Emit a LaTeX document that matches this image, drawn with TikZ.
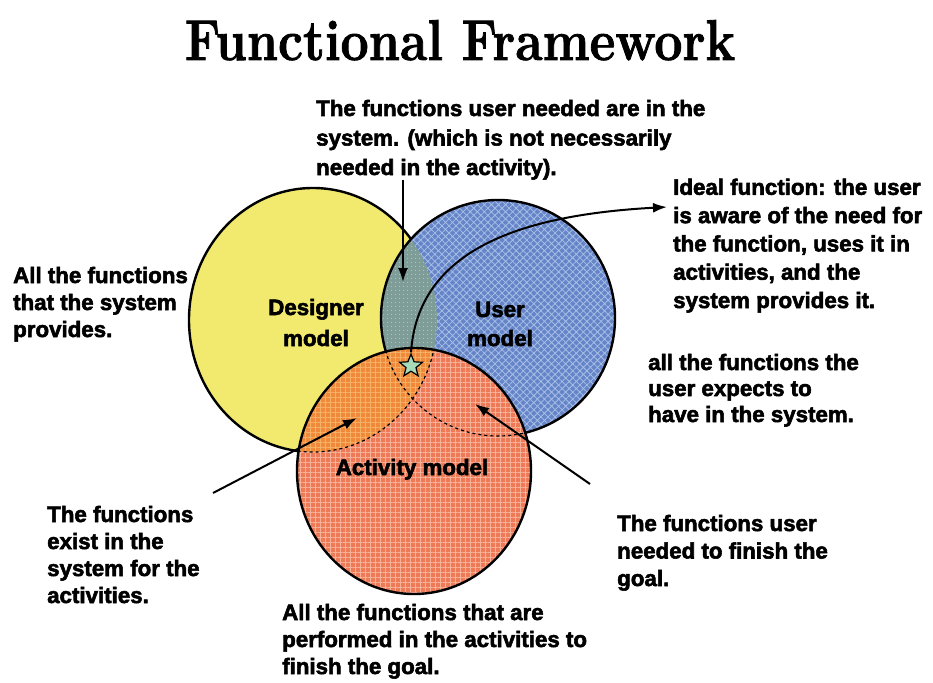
\documentclass[tikz,border=0pt]{standalone}
\usepackage{fontspec}
\usepackage{graphicx}
\newfontfamily\notefont{Liberation Sans Bold}[FakeBold=2.5]
\newfontfamily\titlefont{Latin Modern Roman 10 Bold}[FakeBold=1.5]
\usetikzlibrary{arrows.meta,shapes.geometric,patterns.meta}

\definecolor{designerfill}{HTML}{F2EA6E}
\definecolor{userfill}{HTML}{6585C8}
\definecolor{usertex}{HTML}{A8BEE6}
\definecolor{sharedfill}{HTML}{7E9C98}
\definecolor{sharedtex}{HTML}{C8C878}
\definecolor{activityfill}{HTML}{EE7A58}
\definecolor{activitytex}{HTML}{F7B29A}
\definecolor{systemfill}{HTML}{F08A3A}
\definecolor{systemtex}{HTML}{F5B266}
\definecolor{idealfill}{HTML}{A6DDB8}

% multi-line nodes are placed by the baseline of their last line
\tikzset{
  note/.style={font=\notefont\fontsize{22.3}{#1}\selectfont,
    align=left, anchor=base west, inner sep=0pt},
  note/.default=27,
  setlabel/.style={font=\notefont\fontsize{22.3}{#1}\selectfont,
    align=center, anchor=base, inner sep=0pt},
  setlabel/.default=30,
  outline/.style={line width=2.4pt},
  pointer/.style={line width=2pt, -{Latex[length=14pt,width=10pt]}},
  hidden edge/.style={line width=1.2pt, dash pattern=on 3pt off 3pt},
}

% the three sets
\def\designerset{(313,320) ellipse [x radius=124pt, y radius=132pt]}
\def\userset{(498,318) ellipse [x radius=117pt, y radius=118pt]}
\def\activityset{(414,471) ellipse [x radius=117pt, y radius=123pt]}

\begin{document}
\begin{tikzpicture}[x=1pt, y=-1pt]
\useasboundingbox (0,0) rectangle (933,682);

% designer model
\fill[designerfill] \designerset;
\draw[outline] \designerset;

% user model
\fill[userfill] \userset;
\fill[pattern={Hatch[distance=5pt,angle=45,line width=0.8pt]}, pattern color=usertex] \userset;

% designer and user overlap
\begin{scope}
  \clip \designerset;
  \fill[sharedfill] \userset;
  \fill[pattern={Dots[distance=4pt,radius=0.7pt]}, pattern color=sharedtex] \userset;
\end{scope}
\draw[outline] \userset;

% activity model
\fill[activityfill] \activityset;
\fill[pattern={Hatch[distance=5pt,angle=0,line width=0.8pt]}, pattern color=activitytex] \activityset;
\begin{scope}
  \clip \activityset;
  \fill[systemfill] \designerset;
  \fill[pattern={Hatch[distance=5pt,angle=0,line width=0.8pt]}, pattern color=systemtex] \designerset;
  \draw[hidden edge] \designerset;
  \draw[hidden edge] \userset;
\end{scope}
\draw[outline] \activityset;

% ideal function marker
\node[star, star points=5, star point ratio=2.3, minimum size=24pt, inner sep=0pt,
      fill=idealfill, draw=black, line width=1.2pt] (ideal) at (411,366) {};

% set labels
\node[setlabel=31] (designer) at (316,346) {Designer\\model};
\node[setlabel=29] (user) at (500,346) {User\\model};
\node[setlabel] (activity) at (412,475) {Activity model};

% title
\node[font=\titlefont\fontsize{50}{54}\selectfont, anchor=base, inner sep=0pt]
  (title) at (460,60) {\scalebox{1}[1.15]{Functional Framework}};

% notes
\node[note=29.5] (needed) at (316,175)
  {The functions user needed are in the\\system. (which is not necessarily\\needed in the activity).};
\node[note=28.3] (idealnote) at (673,308)
  {Ideal function: the user\\is aware of the need for\\the function, uses it in\\activities, and the\\system provides it.};
\node[note] (provides) at (13,337)
  {All the functions\\that the system\\provides.};
\node[note=26] (expects) at (648,422)
  {all the functions the\\user expects to\\have in the system.};
\node[note] (exist) at (47,603)
  {The functions\\exist in the\\system for the\\activities.};
\node[note=27.5] (finish) at (617,586)
  {The functions user\\needed to finish the\\goal.};
\node[note] (performed) at (282,674)
  {All the functions that are\\performed in the activities to\\finish the goal.};

% pointer ends
\coordinate (sharedtip) at (403,282);
\coordinate (idealtip) at (667,207);
\coordinate (existfrom) at (213,493);
\coordinate (existtip) at (357,418);
\coordinate (finishfrom) at (590,484);
\coordinate (finishtip) at (475,404);

% pointers
\draw[pointer] (needed.south -| sharedtip) -- (sharedtip);
\draw[pointer] (ideal.north) .. controls (418,250) and (520,215) .. (idealtip);
\draw[pointer] (existfrom) -- (existtip);
\draw[pointer] (finishfrom) -- (finishtip);
\end{tikzpicture}
\end{document}
